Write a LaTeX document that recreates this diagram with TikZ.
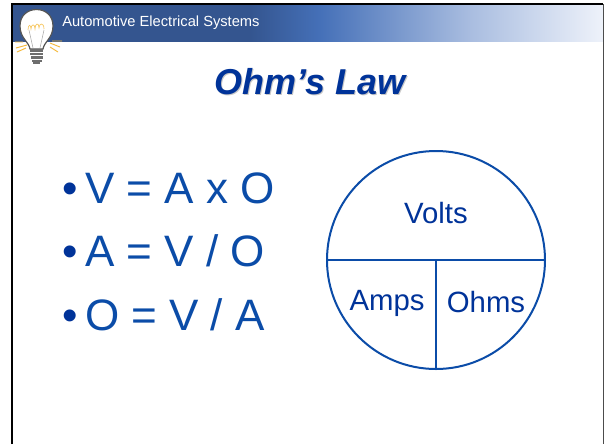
\documentclass[tikz,border=0pt]{standalone}
\usepackage{fontspec}
\setmainfont{Liberation Sans}
\definecolor{hdark}{HTML}{34558F}
\definecolor{hmid}{HTML}{4570B8}
\definecolor{hlite}{HTML}{A9BDE0}
\definecolor{hend}{HTML}{EEF2FA}
\definecolor{ink}{HTML}{003399}
\definecolor{inklite}{HTML}{0B4CA8}
\definecolor{bulbgray}{HTML}{555555}
\definecolor{amber}{HTML}{F5B93A}
\newcommand{\lawbul}{{\color{ink}•}\hspace*{5.5pt}}
\tikzset{
  px/.style={x=0.75pt,y=-0.75pt},
  bigtext/.style={anchor=base west,text=inklite,font=\fontsize{33}{36}\selectfont,inner sep=0pt},
  cellext/.style={anchor=base,text=ink,font=\fontsize{22}{24}\selectfont,inner sep=0pt},
  lawline/.style={draw=inklite,line width=1.5pt},
  ray/.style={draw=amber,line width=0.7pt},
}
\begin{document}
\begin{tikzpicture}[px]
\useasboundingbox (0,0) rectangle (604,444);
\fill[white] (0,0) rectangle (604,444);
% header band
\fill[hdark] (13,5) rectangle (250,42);
\shade[left color=hdark,right color=hmid] (250,5) rectangle (320,42);
\shade[left color=hmid,right color=hlite] (320,5) rectangle (470,42);
\shade[left color=hlite,right color=hend] (470,5) rectangle (603,42);
\fill[white] (13,42) rectangle (603,50);
% frame
\draw[black,line width=1.5pt] (11.5,444) -- (11.5,4) -- (603,4);
\draw[black!70,line width=0.6pt] (603.3,4) -- (603.3,444);
% light bulb
\fill[white,draw=bulbgray,line width=0.9pt]
  (30,49) .. controls (29,42) and (20,38) .. (20,26)
  .. controls (20,15) and (28,9.5) .. (36.5,9.5)
  .. controls (45,9.5) and (53,15) .. (53,26)
  .. controls (53,38) and (44,42) .. (43,49) -- cycle;
\draw[black!35,line width=0.4pt] (33,48) -- (29,30) (40,48) -- (44,30);
\draw[amber!80,line width=0.5pt] (28,30) .. controls (28,24) and (31,24) .. (31,29)
  .. controls (31,24) and (35,23) .. (35,29) .. controls (35,23) and (39,22) .. (39,28)
  .. controls (39,23) and (44,22) .. (44,29);
\fill[bulbgray!85] (30,49) rectangle (43,51.5);
\fill[bulbgray!85] (30,52.5) rectangle (43,55);
\fill[bulbgray!85] (30.5,56) rectangle (43,58.5);
\fill[bulbgray!85] (31.5,59.5) rectangle (42,61.5);
\fill[bulbgray!85] (33,61.5) rectangle (40,63.5);
\draw[ray] (15,42) -- (23,42) (16,48) -- (27,45) (17,52) -- (26,48);
\draw[ray] (52,41) -- (62,41) (50,43) -- (60,47) (50,47) -- (58,52);
% header text
\node[anchor=base west,text=white,font=\fontsize{11}{13}\selectfont,inner sep=0pt] (hdr) at (62,26) {Automotive Electrical Systems};
% title
\node[anchor=base,text=black!22,font=\bfseries\itshape\fontsize{27}{30}\selectfont,inner sep=0pt] (titleshadow) at (311,95.5) {Ohm’s Law};
\node[anchor=base,text=ink,font=\bfseries\itshape\fontsize{27}{30}\selectfont,inner sep=0pt] (title) at (310,94) {Ohm’s Law};
% bullets
\node[bigtext] (b1) at (62,203.5) {\lawbul V = A x O};
\node[bigtext] (b2) at (62,266.5) {\lawbul A = V / O};
\node[bigtext] (b3) at (62,330) {\lawbul O = V / A};
% circle
\node[circle,lawline,minimum size=163.5pt,inner sep=0pt] (c) at (436,260) {};
\draw[lawline] (c.west) -- (c.east);
\draw[lawline] (c.center) -- (c.south);
\node[cellext] (v) at (436,223) {Volts};
\node[cellext] (a) at (387,310) {Amps};
\node[cellext] (o) at (486,312) {Ohms};
\end{tikzpicture}
\end{document}
